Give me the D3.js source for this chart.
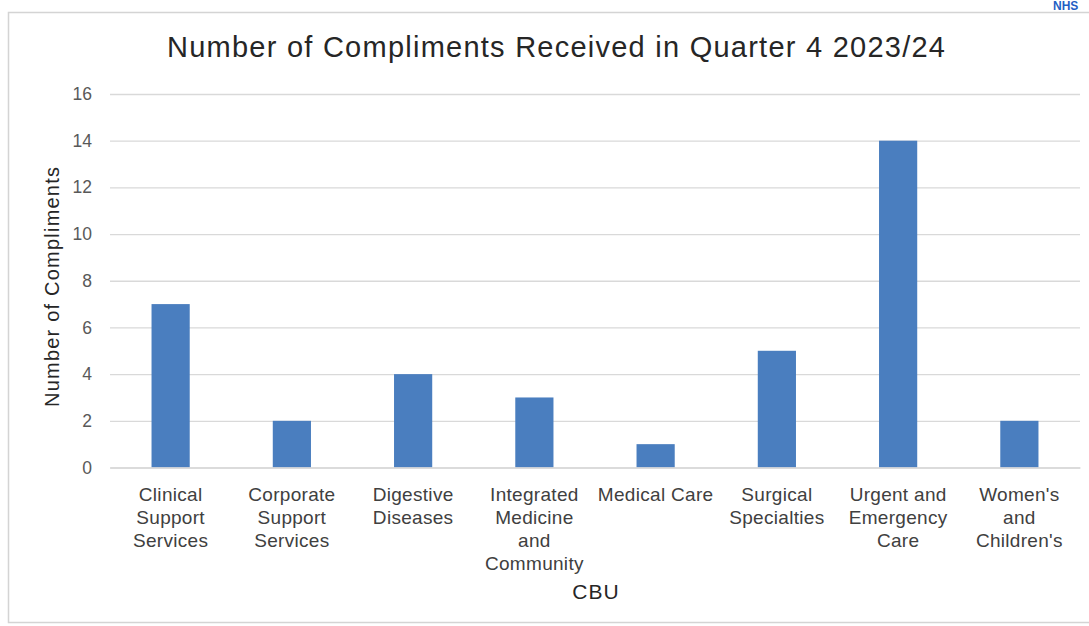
<!DOCTYPE html>
<html>
<head>
<meta charset="utf-8">
<script src="https://cdn.jsdelivr.net/npm/d3@7"></script>
<style>
  html, body { margin: 0; padding: 0; background: #fff; }
  svg { display: block; font-family: "Liberation Sans", Arial, sans-serif; }
</style>
</head>
<body>
<svg id="chart" width="1089" height="626"></svg>
<script>
// Compliments received per CBU, Q4 2023/24
const categories = [
  "Clinical\nSupport\nServices",
  "Corporate\nSupport\nServices",
  "Digestive\nDiseases",
  "Integrated\nMedicine\nand\nCommunity",
  "Medical Care",
  "Surgical\nSpecialties",
  "Urgent and\nEmergency\nCare",
  "Women's\nand\nChildren's"
];
const compliments = [7, 2, 4, 3, 1, 5, 14, 2];
const yTicks = [0, 2, 4, 6, 8, 10, 12, 14, 16];

const title = "Number of Compliments Received in Quarter 4 2023/24";
const yTitle = "Number of Compliments";
const xTitle = "CBU";

const svg = d3.select("#chart");
const W = 1089, H = 626;

// outer chart frame
svg.append("rect")
  .attr("x", 8.5).attr("y", 12.5)
  .attr("width", W + 10).attr("height", 610)
  .attr("fill", "#fff").attr("stroke", "#d4d4d4").attr("stroke-width", 1.5);

// page header fragment at the top right
svg.append("text")
  .attr("x", 1053).attr("y", 10)
  .attr("fill", "#1f5fc4")
  .attr("font-weight", "bold")
  .attr("font-size", 12)
  .text("NHS");

const plot = { left: 110, right: 1080, top: 94, bottom: 467.5 };

const x = d3.scaleBand()
  .domain(categories)
  .range([plot.left, plot.right])
  .paddingInner(0.685)
  .paddingOuter(0.3425);

const y = d3.scaleLinear()
  .domain([0, 16])
  .range([plot.bottom, plot.top]);

// gridlines and value labels
const yAxis = d3.axisLeft(y)
  .tickValues(yTicks)
  .tickSize(-(plot.right - plot.left))
  .tickPadding(18)
  .tickFormat(d3.format("d"));

const gy = svg.append("g")
  .attr("transform", `translate(${plot.left},0)`)
  .call(yAxis);
gy.select(".domain").remove();
gy.selectAll(".tick line").attr("stroke", "#d9d9d9").attr("stroke-width", 1.3);
gy.selectAll(".tick text")
  .attr("fill", "#595959")
  .attr("font-size", 17.5)
  .attr("font-family", "'Liberation Sans', Arial, sans-serif");

// bars
svg.append("g")
  .selectAll("rect")
  .data(compliments)
  .join("rect")
  .attr("x", (d, i) => x(categories[i]))
  .attr("y", d => y(d))
  .attr("width", x.bandwidth())
  .attr("height", d => y(0) - y(d))
  .attr("fill", "#4a7ebf");

// category axis
const xAxis = d3.axisBottom(x).tickSize(0).tickFormat("");
const gx = svg.append("g")
  .attr("transform", `translate(0,${plot.bottom})`)
  .call(xAxis);
gx.select(".domain").attr("stroke", "#d9d9d9").attr("stroke-width", 1.3);

gx.selectAll(".tick").each(function (d) {
  const t = d3.select(this).append("text")
    .attr("fill", "#404040")
    .attr("font-size", 19)
    .attr("letter-spacing", 0.3)
    .attr("text-anchor", "middle")
    .attr("font-family", "'Liberation Sans', Arial, sans-serif");
  d.split("\n").forEach((line, i) => {
    t.append("tspan")
      .attr("x", 0)
      .attr("y", 33 + i * 23)
      .text(line);
  });
});

// titles
svg.append("text")
  .attr("x", 556).attr("y", 57)
  .attr("text-anchor", "middle")
  .attr("font-size", 29)
  .attr("textLength", 778)
  .attr("lengthAdjust", "spacing")
  .attr("fill", "#262626")
  .text(title);

svg.append("text")
  .attr("transform", `translate(59,287) rotate(-90)`)
  .attr("text-anchor", "middle")
  .attr("font-size", 20)
  .attr("textLength", 240)
  .attr("lengthAdjust", "spacing")
  .attr("fill", "#262626")
  .text(yTitle);

svg.append("text")
  .attr("x", 596).attr("y", 599)
  .attr("text-anchor", "middle")
  .attr("font-size", 21)
  .attr("letter-spacing", 1)
  .attr("fill", "#262626")
  .text(xTitle);
</script>
</body>
</html>
